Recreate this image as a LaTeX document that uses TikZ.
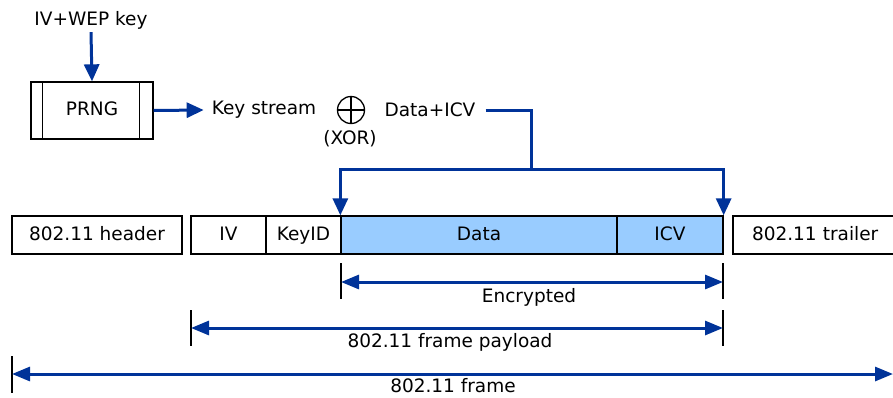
\documentclass[tikz,border=0pt]{standalone}
\usepackage{fontspec}
\setmainfont{DejaVu Sans}
\usetikzlibrary{arrows.meta}
\definecolor{lineblue}{HTML}{003399}
\definecolor{fillblue}{HTML}{99CCFF}
\begin{document}
\begin{tikzpicture}[x=1pt,y=-1pt,
  txt/.style={font=\fontsize{18.5}{22}\selectfont, inner sep=3pt},
  fbox/.style={txt, draw=black, line width=1.3pt, minimum height=38pt, inner sep=0pt, anchor=center, text height=13.5pt, text depth=3.5pt},
  bluearr/.style={draw=lineblue, line width=3pt, -{Triangle[length=17pt,width=15pt]}},
  bluedim/.style={draw=lineblue, line width=3pt, {Triangle[length=18pt,width=14pt]}-{Triangle[length=18pt,width=14pt]}},
  blueline/.style={draw=lineblue, line width=3pt},
  tickline/.style={draw=black, line width=1.3pt}]
\useasboundingbox (0,0) rectangle (893,397);
\clip (0,0) rectangle (893,397);
% top part
\node[txt] (ivwep) at (91,20) {IV+WEP key};
\node[fbox, minimum width=122pt, minimum height=57pt] (prng) at (92,110.5) {PRNG};
\draw[tickline] ([xshift=12pt]prng.north west) -- ([xshift=12pt]prng.south west);
\draw[tickline] ([xshift=-14pt]prng.north east) -- ([xshift=-14pt]prng.south east);
\node[txt, inner sep=0pt] (ks) at (264,110) {Key stream};
\node[draw=black, line width=1.3pt, circle, minimum size=27pt, inner sep=0pt] (xor) at (351,110) {};
\draw[line width=1.3pt] (xor.north) -- (xor.south) (xor.west) -- (xor.east);
\node[txt] (xorlbl) at (350,139) {(XOR)};
\node[txt, inner sep=0pt] (dicv) at (430,110) {Data+ICV};
\draw[bluearr] (ivwep.south) -- (prng.north);
\draw[bluearr] (prng.east) -- ([xshift=-8pt]ks.west);
% frame boxes
\node[fbox, minimum width=170pt] (hdr) at (97,235) {802.11 header};
\node[fbox, minimum width=75pt] (iv) at (228.5,235) {IV};
\node[fbox, minimum width=75pt] (kid) at (303.5,235) {KeyID};
\node[fbox, minimum width=276pt, fill=fillblue] (data) at (479,235) {Data};
\node[fbox, minimum width=106pt, fill=fillblue] (icv) at (670,235) {ICV};
\node[fbox, minimum width=170pt, text width=160pt, align=left, inner xsep=5pt] (trl) at (818,235) {\hspace*{14pt}802.11 trailer};
% connector from Data+ICV
\coordinate (j) at (531,169);
\draw[blueline] ([xshift=10pt]dicv.east) -| (j);
\draw[bluearr] (j) -| (data.north west);
\draw[bluearr] (j) -| (icv.north east);
% dimension lines
\coordinate (e1) at (341,263); \coordinate (e2) at (341,299);
\coordinate (e3) at (723,263); \coordinate (e4) at (723,299);
\draw[tickline] (e1) -- (e2);
\draw[tickline] (e3) -- (e4);
\coordinate (ea) at (341,282); \coordinate (eb) at (723,282);
\draw[bluedim] (ea) -- (eb);
\node[txt] (enc) at (529,297) {Encrypted};
\coordinate (p1) at (191,310); \coordinate (p2) at (191,346);
\coordinate (p3) at (723,310); \coordinate (p4) at (723,346);
\draw[tickline] (p1) -- (p2);
\draw[tickline] (p3) -- (p4);
\coordinate (pa) at (191,328); \coordinate (pb) at (723,328);
\draw[bluedim] (pa) -- (pb);
\node[txt] (pay) at (450,342) {802.11 frame payload};
\coordinate (f1) at (12,356); \coordinate (f2) at (12,393);
\draw[tickline] (f1) -- (f2);
\coordinate (fa) at (12,374); \coordinate (fb) at (893,374);
\draw[bluedim] (fa) -- (fb);
\node[txt] (frm) at (453,386) {802.11 frame};
\end{tikzpicture}
\end{document}
